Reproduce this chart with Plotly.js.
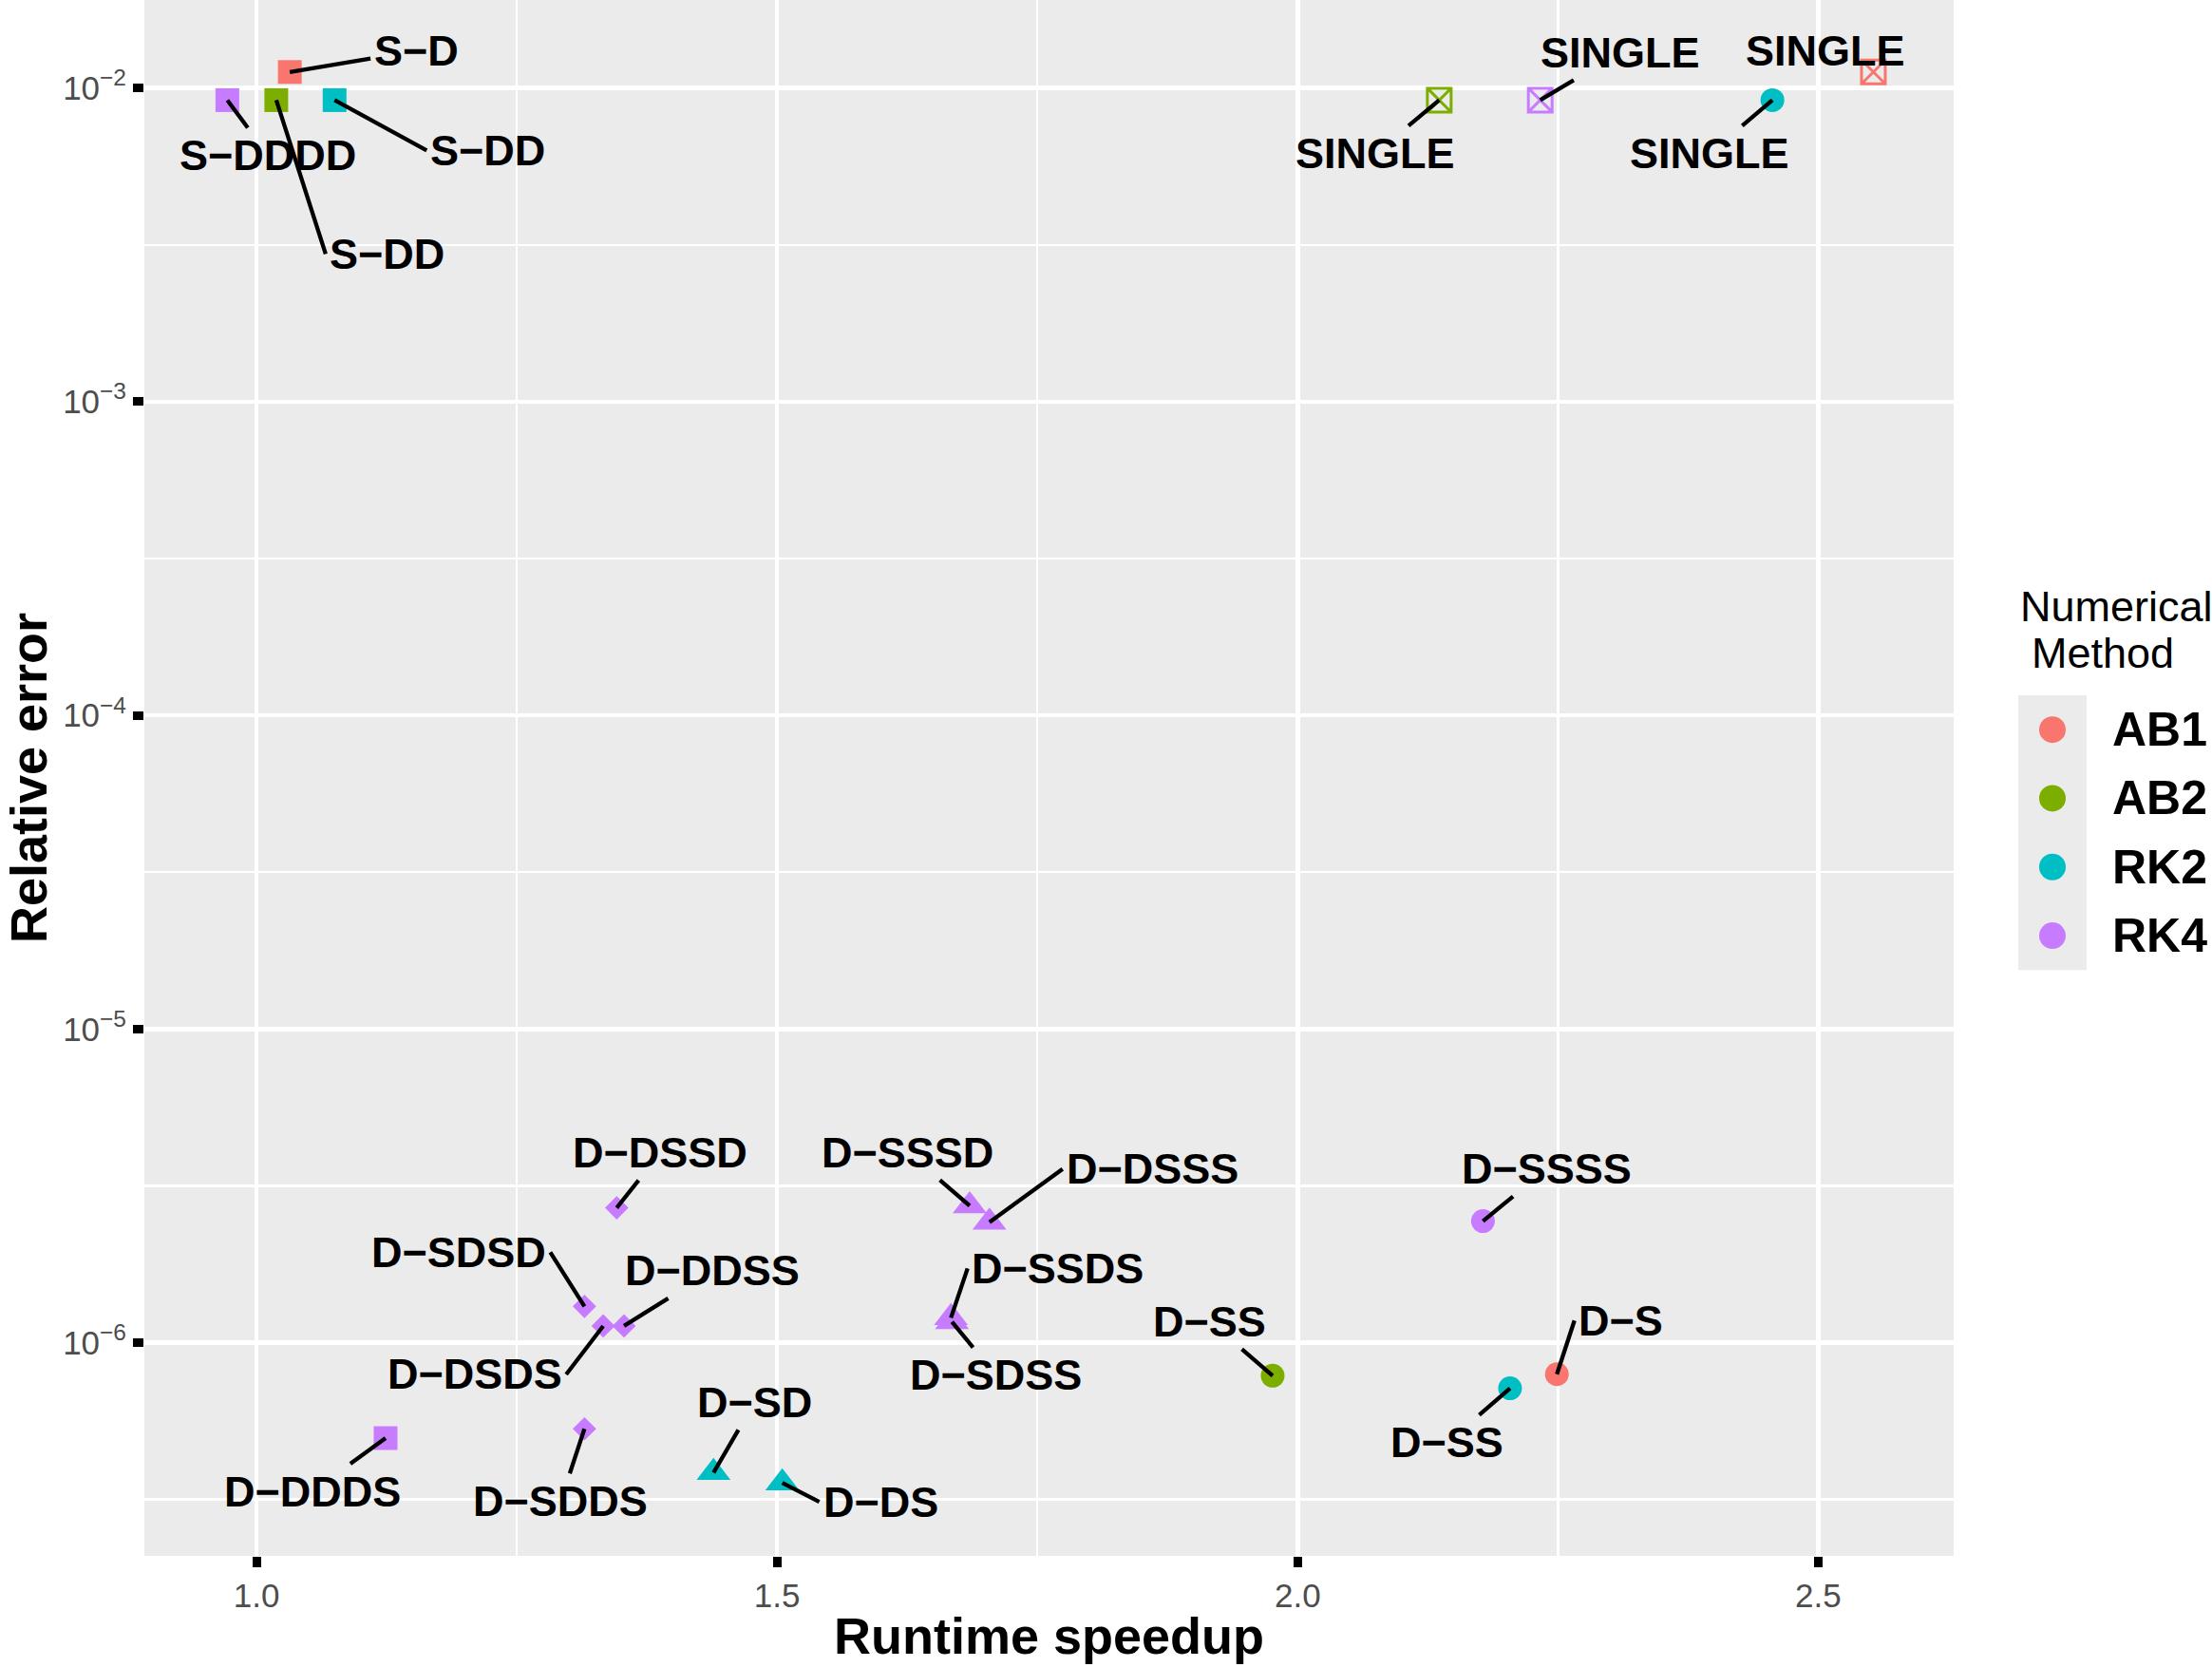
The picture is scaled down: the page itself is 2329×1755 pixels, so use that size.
<!DOCTYPE html>
<html>
<head>
<meta charset="utf-8">
<script src="https://cdn.plot.ly/plotly-3.0.1.min.js"></script>
<style>
  html, body { margin: 0; padding: 0; background: #ffffff; }
  #chart { width: 2329px; height: 1755px; }
</style>
</head>
<body>
<div id="chart"></div>
<script>
// ---- data -------------------------------------------------------------
const methods = ['AB1', 'AB2', 'RK2', 'RK4'];

const pointMethod = [
  'AB1', 'AB1', 'AB1',
  'AB2', 'AB2', 'AB2',
  'RK2', 'RK2', 'RK2', 'RK2', 'RK2',
  'RK4', 'RK4', 'RK4', 'RK4', 'RK4', 'RK4', 'RK4',
  'RK4', 'RK4', 'RK4', 'RK4', 'RK4', 'RK4'
];

const pointLabel = [
  'S\u2212D', 'SINGLE', 'D\u2212S',
  'S\u2212DD', 'SINGLE', 'D\u2212SS',
  'S\u2212DD', 'SINGLE', 'D\u2212SS', 'D\u2212SD', 'D\u2212DS',
  'S\u2212DDDD', 'SINGLE', 'D\u2212SSSS', 'D\u2212SSSD', 'D\u2212DSSS', 'D\u2212SSDS', 'D\u2212SDSS',
  'D\u2212DSSD', 'D\u2212SDSD', 'D\u2212DSDS', 'D\u2212DDSS', 'D\u2212SDDS', 'D\u2212DDDS'
];

const speedup = [
  1.032, 2.553, 2.249,
  1.019, 2.136, 1.976,
  1.075, 2.456, 2.204, 1.439, 1.505,
  0.972, 2.233, 2.178, 1.685, 1.704, 1.667, 1.668,
  1.346, 1.315, 1.333, 1.353, 1.315, 1.124
];

const relError = [
  1.125e-2, 1.125e-2, 7.93e-7,
  9.15e-3, 9.15e-3, 7.84e-7,
  9.15e-3, 9.15e-3, 7.15e-7, 3.85e-7, 3.57e-7,
  9.15e-3, 9.15e-3, 2.44e-6, 2.73e-6, 2.42e-6, 1.20e-6, 1.165e-6,
  2.69e-6, 1.305e-6, 1.13e-6, 1.13e-6, 5.31e-7, 4.96e-7
];

// marker family of each configuration
const pointShape = [
  'square', 'boxcross', 'circle',
  'square', 'boxcross', 'circle',
  'square', 'circle', 'circle', 'triangle', 'triangle',
  'square', 'boxcross', 'circle', 'triangle', 'triangle', 'triangle', 'triangle',
  'diamond', 'diamond', 'diamond', 'diamond', 'diamond', 'square'
];

const xTickVals = [1.0, 1.5, 2.0, 2.5];
const xTickText = ['1.0', '1.5', '2.0', '2.5'];
const yTickVals = [1e-6, 1e-5, 1e-4, 1e-3, 1e-2];
const yTickText = ['10<sup>\u22126</sup>', '10<sup>\u22125</sup>', '10<sup>\u22124</sup>',
                   '10<sup>\u22123</sup>', '10<sup>\u22122</sup>'];

// ---- presentation -----------------------------------------------------
const methodColors = { AB1: '#F8766D', AB2: '#7CAE00', RK2: '#00BFC4', RK4: '#C77CFF' };
const symbolOf = { square: 'square', boxcross: 'square-x-open', circle: 'circle',
                   triangle: 'triangle-up', diamond: 'diamond' };
const sizeOf = { square: 25, boxcross: 25, circle: 25, triangle: 31, diamond: 19 };

// repelled label placement: pixel offset of the leader's end from its point.
// No anchor: the offset is the label centre. 'left' / 'right': the leader
// meets that side of the label. 'none': label sits on its point, no leader.
const labelOffset = [
  [133, -22], [-50, -22, 'none'], [18.5, -56.5, 'left'],
  [52, 162, 'left'], [-67, 56], [-66, -57],
  [97, 53, 'left'], [-66, 56], [-66, 57], [43, -74], [39, 20, 'left'],
  [43, 58], [84, -50], [67, -55], [-65, -56], [77, -56, 'left'], [17.5, -52, 'left'], [46, 56],
  [46, -58], [-36, -57, 'right'], [-39, 51, 'right'], [93, -58], [-25, 76], [-77, 56]
];

const FONT = 'Liberation Sans, Arial, Helvetica, sans-serif';
const W = 2329, H = 1755;
const M = { l: 152, r: 272, t: 0, b: 117 };
const plotW = W - M.l - M.r, plotH = H - M.t - M.b;
const px2x = p => (p - M.l) / plotW;
const py2y = p => (M.t + plotH - p) / plotH;

// ---- traces -----------------------------------------------------------
const traces = methods.map(m => {
  const idx = pointMethod.map((pm, i) => pm === m ? i : -1).filter(i => i >= 0);
  return {
    type: 'scatter',
    mode: 'markers',
    name: m,
    x: idx.map(i => speedup[i]),
    y: idx.map(i => relError[i]),
    text: idx.map(i => pointLabel[i]),
    showlegend: false,
    hoverinfo: 'x+y+text',
    marker: {
      color: methodColors[m],
      symbol: idx.map(i => symbolOf[pointShape[i]]),
      size: idx.map(i => sizeOf[pointShape[i]]),
      opacity: 1,
      line: {
        color: methodColors[m],
        width: idx.map(i => pointShape[i] === 'boxcross' ? 3 : 0)
      }
    }
  };
});

// ---- point labels -----------------------------------------------------
const annotations = pointLabel.map((lab, i) => {
  const off = labelOffset[i];
  const base = {
    x: speedup[i],
    y: Math.log10(relError[i]),
    xref: 'x', yref: 'y',
    text: lab,
    font: { family: FONT, size: 45, color: '#000000', weight: 'bold' },
    borderpad: 3
  };
  if (off[2] === 'none') {
    return Object.assign(base, { showarrow: false, xshift: off[0], yshift: -off[1] });
  }
  const ann = Object.assign(base, {
    showarrow: true, ax: off[0], ay: off[1],
    arrowhead: 0, arrowwidth: 4.3, arrowcolor: '#000000', standoff: 0
  });
  if (off[2] === 'left' || off[2] === 'right') {
    ann.xanchor = off[2];
    ann.yanchor = 'middle';
  }
  return ann;
});

// ---- legend (colour key for the methods) ------------------------------
const shapes = [];
const keyLeft = 2125, keyRight = 2197, keyTop = 732, keyStep = 72.3;
shapes.push({
  type: 'rect', xref: 'paper', yref: 'paper', layer: 'below',
  x0: px2x(keyLeft), x1: px2x(keyRight),
  y0: py2y(keyTop + keyStep * methods.length), y1: py2y(keyTop),
  fillcolor: '#EBEBEB', line: { width: 0 }
});
methods.forEach((m, k) => {
  const cy = keyTop + keyStep * (k + 0.5);
  const cx = (keyLeft + keyRight) / 2;
  shapes.push({
    type: 'circle', xref: 'paper', yref: 'paper',
    x0: px2x(cx - 14), x1: px2x(cx + 14), y0: py2y(cy + 14), y1: py2y(cy - 14),
    fillcolor: methodColors[m], line: { width: 0 }
  });
  annotations.push({
    xref: 'paper', yref: 'paper', x: px2x(2222), y: py2y(cy),
    xanchor: 'left', yanchor: 'middle', showarrow: false,
    text: m, font: { family: FONT, size: 50, color: '#000000', weight: 'bold' }
  });
});
annotations.push({
  xref: 'paper', yref: 'paper', x: px2x(2125), y: py2y(639),
  xanchor: 'left', yanchor: 'middle', showarrow: false,
  text: 'Numerical', font: { family: FONT, size: 45, color: '#000000' }
});
annotations.push({
  xref: 'paper', yref: 'paper', x: px2x(2137), y: py2y(688),
  xanchor: 'left', yanchor: 'middle', showarrow: false,
  text: 'Method', font: { family: FONT, size: 45, color: '#000000' }
});

// ---- layout -----------------------------------------------------------
const layout = {
  width: W, height: H,
  margin: { l: M.l, r: M.r, t: M.t, b: M.b, pad: 0 },
  paper_bgcolor: '#FFFFFF',
  plot_bgcolor: '#EBEBEB',
  showlegend: false,
  font: { family: FONT },
  xaxis: {
    range: [0.8923, 2.6301],
    tickmode: 'array', tickvals: xTickVals, ticktext: xTickText,
    ticks: 'outside', ticklen: 11, tickwidth: 9, tickcolor: '#000000',
    tickfont: { family: FONT, size: 35, color: '#4D4D4D' },
    showgrid: true, gridcolor: '#FFFFFF', gridwidth: 4.5,
    minor: { tickmode: 'array', tickvals: [1.25, 1.75, 2.25], ticks: '',
             showgrid: true, gridcolor: '#FFFFFF', gridwidth: 2.5 },
    zeroline: false, showline: false, automargin: false,
    title: { text: 'Runtime speedup', standoff: 5,
             font: { family: FONT, size: 54, color: '#000000', weight: 'bold' } }
  },
  yaxis: {
    type: 'log',
    range: [-6.680, -1.7193],
    tickmode: 'array', tickvals: yTickVals, ticktext: yTickText,
    ticks: 'outside', ticklen: 11, tickwidth: 9, tickcolor: '#000000',
    tickfont: { family: FONT, size: 35, color: '#4D4D4D' },
    showgrid: true, gridcolor: '#FFFFFF', gridwidth: 4.5,
    minor: { tickmode: 'array',
             tickvals: [Math.pow(10, -6.5), Math.pow(10, -5.5), Math.pow(10, -4.5),
                        Math.pow(10, -3.5), Math.pow(10, -2.5)],
             ticks: '', showgrid: true, gridcolor: '#FFFFFF', gridwidth: 2.5 },
    zeroline: false, showline: false, automargin: false,
    title: { text: 'Relative error', standoff: 2,
             font: { family: FONT, size: 54, color: '#000000', weight: 'bold' } }
  },
  annotations: annotations,
  shapes: shapes
};

Plotly.newPlot('chart', traces, layout, { displayModeBar: false, staticPlot: true });
</script>
</body>
</html>
